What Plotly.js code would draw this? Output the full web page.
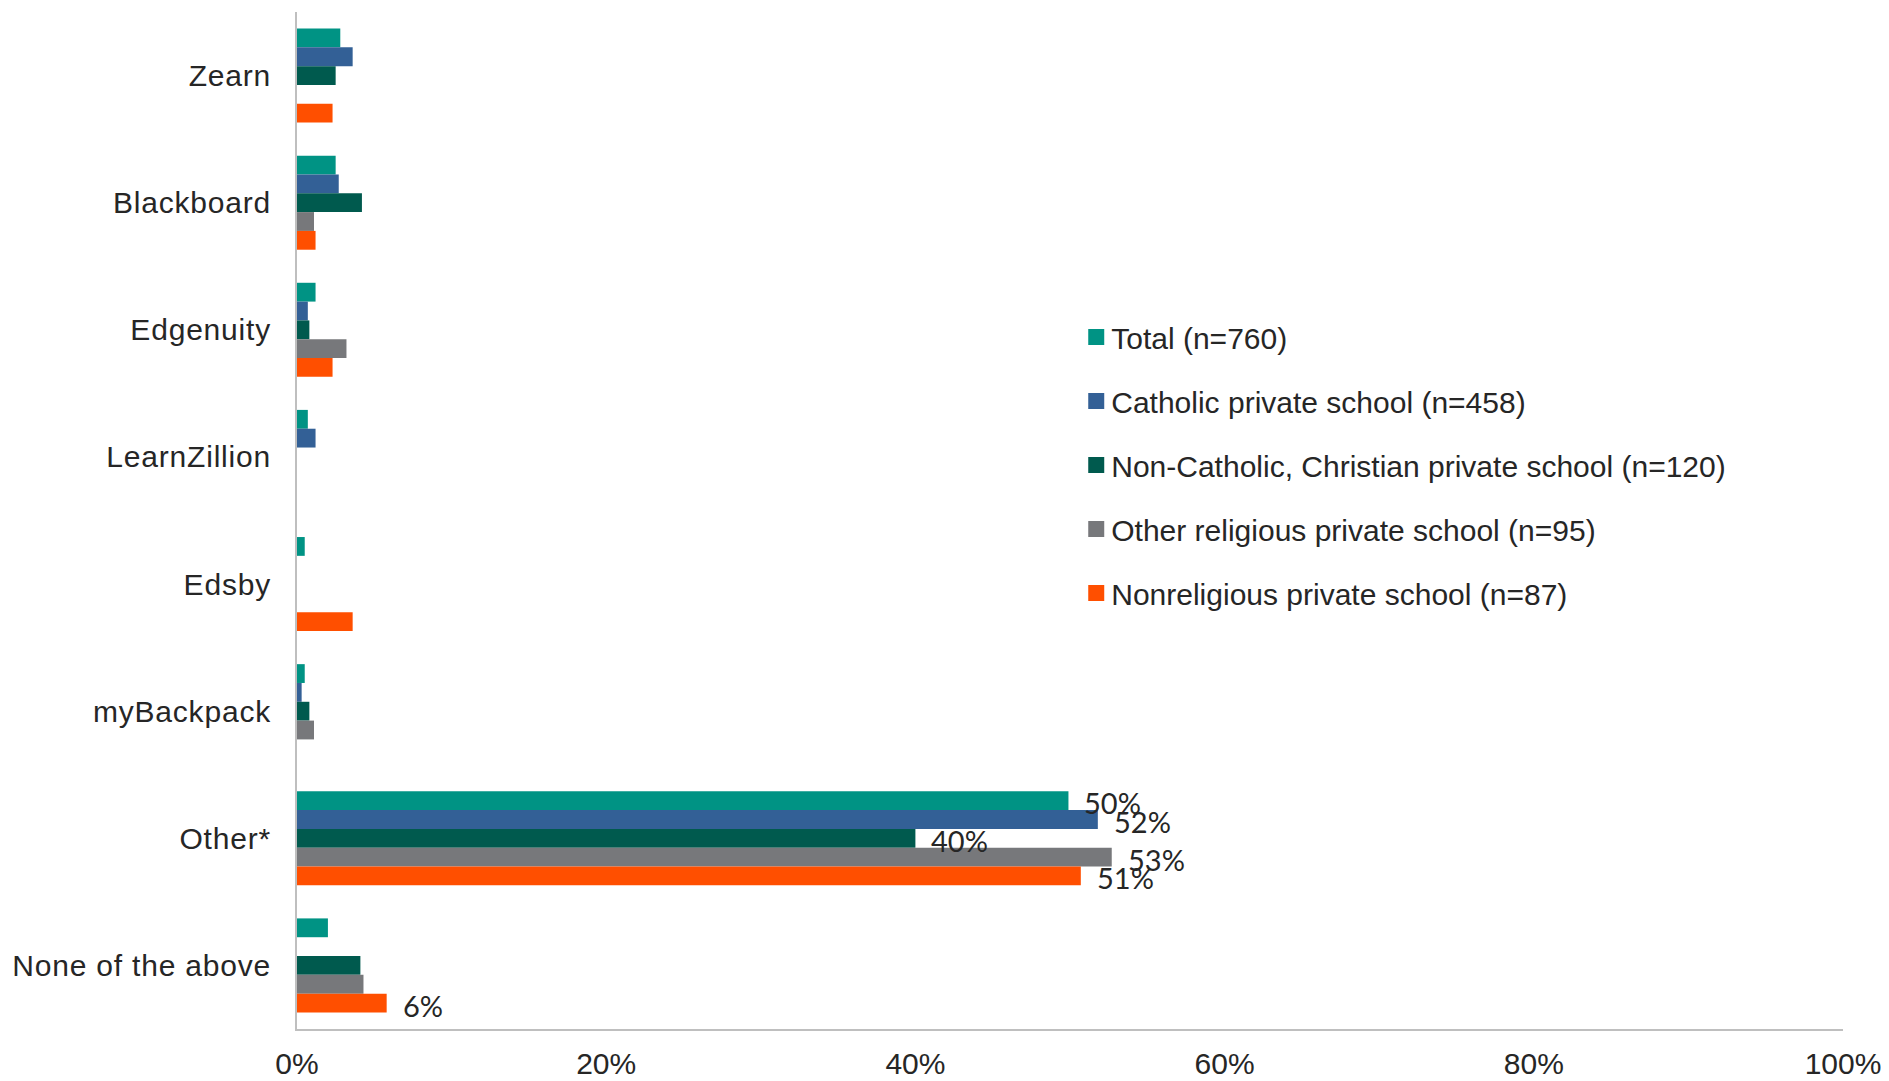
<!DOCTYPE html>
<html>
<head>
<meta charset="utf-8">
<script src="https://cdn.plot.ly/plotly-3.0.1.min.js"></script>
<style>
  html, body { margin: 0; padding: 0; background: #fff; }
  #chart { width: 1889px; height: 1081px; }
  .ytick text { letter-spacing: 0.8px; }
  .legend .legendpoints path { d: path("M13,8H-3V-8H13Z"); }
</style>
</head>
<body>
<div id="chart"></div>
<script>
// Categories (top to bottom)
const categories = ["Zearn", "Blackboard", "Edgenuity", "LearnZillion", "Edsby", "myBackpack", "Other*", "None of the above"];

// Series names
const seriesNames = [
  "Total (n=760)",
  "Catholic private school (n=458)",
  "Non-Catholic, Christian private school (n=120)",
  "Other religious private school (n=95)",
  "Nonreligious private school (n=87)"
];

// Values in percent
const totalVals     = [2.8, 2.5, 1.2, 0.7, 0.5, 0.5, 49.9, 2.0];
const catholicVals  = [3.6, 2.7, 0.7, 1.2, null, 0.3, 51.8, null];
const nonCathVals   = [2.5, 4.2, 0.8, null, null, 0.8, 40.0, 4.1];
const otherRelVals  = [null, 1.1, 3.2, null, null, 1.1, 52.7, 4.3];
const nonrelVals    = [2.3, 1.2, 2.3, null, 3.6, null, 50.7, 5.8];

const seriesColors = ["#009384", "#336096", "#005A4E", "#77787B", "#FF4F00"];

// Which [series index, category index] pairs carry a value label
const labeled = [[0, 6], [1, 6], [2, 6], [3, 6], [4, 6], [4, 7]];

const allVals = [totalVals, catholicVals, nonCathVals, otherRelVals, nonrelVals];

const bargap = 0.26;
const nSeries = allVals.length;

const traces = allVals.map((vals, i) => ({
  type: "bar",
  orientation: "h",
  name: seriesNames[i],
  legendgroup: "g" + i,
  x: vals,
  y: categories,
  marker: { color: seriesColors[i] },
  hoverinfo: "x+y+name"
}));

const barW = (1 - bargap) / nSeries;
const annotations = labeled.map(([s, c]) => ({
  x: allVals[s][c],
  y: c + (-(1 - bargap) / 2 + (s + 0.5) * barW),
  xref: "x",
  yref: "y",
  text: Math.round(allVals[s][c]) + "%",
  showarrow: false,
  xanchor: "left",
  yanchor: "middle",
  xshift: 14,
  yshift: -2,
  font: { family: "Lato, 'Liberation Sans', sans-serif", size: 29, color: "#262626" }
}));

const layout = {
  width: 1889,
  height: 1081,
  margin: { l: 297, r: 46, t: 12, b: 52, pad: 0 },
  paper_bgcolor: "#ffffff",
  plot_bgcolor: "#ffffff",
  barmode: "group",
  bargap: bargap,
  bargroupgap: 0,
  font: { family: "'Liberation Sans', Arial, sans-serif", size: 30, color: "#262626" },
  xaxis: {
    range: [0, 100],
    dtick: 20,
    tick0: 0,
    ticksuffix: "%",
    showgrid: false,
    zeroline: false,
    showline: true,
    linecolor: "#BFBFBF",
    linewidth: 2,
    ticks: "",
    ticklabelstandoff: 7,
    tickfont: { family: "'Liberation Sans', Arial, sans-serif", size: 30, color: "#262626" },
    fixedrange: true
  },
  yaxis: {
    type: "category",
    autorange: "reversed",
    showgrid: false,
    zeroline: false,
    showline: true,
    linecolor: "#BFBFBF",
    linewidth: 2,
    ticks: "",
    ticklabelstandoff: 18,
    tickfont: { family: "'Liberation Sans', Arial, sans-serif", size: 30, color: "#262626" },
    fixedrange: true
  },
  showlegend: true,
  legend: {
    x: 0.5008,
    y: 0.706,
    xanchor: "left",
    yanchor: "top",
    traceorder: "grouped",
    tracegroupgap: 22,
    bgcolor: "rgba(0,0,0,0)",
    font: { family: "'Liberation Sans', Arial, sans-serif", size: 30, color: "#262626" }
  },
  annotations: annotations
};

Plotly.newPlot("chart", traces, layout, { displayModeBar: false, staticPlot: true });
</script>
</body>
</html>
